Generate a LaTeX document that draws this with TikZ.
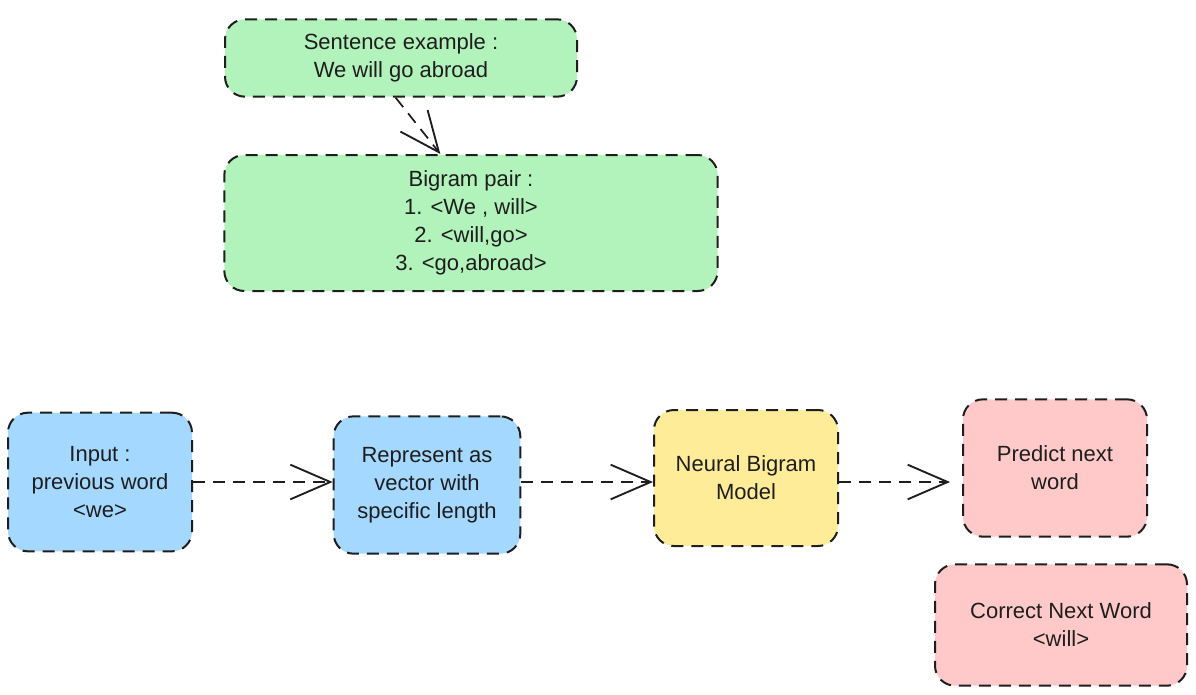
\documentclass[tikz,border=0pt]{standalone}
\usepackage{fontspec}
\setmainfont{Liberation Sans}
\usetikzlibrary{arrows.meta}

\definecolor{inkgray}{HTML}{1E1E1E}
\definecolor{fillgreen}{HTML}{B2F2BB}
\definecolor{fillblue}{HTML}{A5D8FF}
\definecolor{fillyellow}{HTML}{FFEC99}
\definecolor{fillred}{HTML}{FFC9C9}

\tikzset{
	sketchbox/.style={draw=inkgray, line width=1.5pt, dash pattern=on 9pt off 6pt, rounded corners=15pt, align=center, inner sep=2pt, font=\fontsize{16.5}{21}\selectfont, text=inkgray},
	flowarrow/.style={draw=inkgray, line width=1.3pt, dash pattern=on 9pt off 6pt, -{Straight Barb[length=30pt,width=26pt,line width=1.4pt]}}
}

\begin{document}
\begin{tikzpicture}[x=0.75pt,y=0.75pt,yscale=-1,xscale=1]
	\useasboundingbox (0,0) rectangle (1196,694);
	% upper part: sentence and its bigram pairs
	\node [sketchbox, fill=fillgreen, minimum width=264pt, minimum height=58pt] (sent) at (401,58) {Sentence example :\\We will go abroad};
	\node [sketchbox, fill=fillgreen, minimum width=370pt, minimum height=102pt] (bigram) at (471,223) {Bigram pair :\\1. <We , will>\\2. <will,go>\\3. <go,abroad>};
	% lower part: the model pipeline
	\node [sketchbox, fill=fillblue, minimum width=138pt, minimum height=104pt] (input) at (100,482) {Input :\\previous word\\<we>};
	\node [sketchbox, fill=fillblue, minimum width=140pt, minimum height=103pt] (repr) at (427,485) {Represent as\\vector with\\specific length};
	\node [sketchbox, fill=fillyellow, minimum width=138pt, minimum height=102pt] (model) at (746,478) {Neural Bigram\\Model};
	\node [sketchbox, fill=fillred, minimum width=138pt, minimum height=103pt] (predict) at (1055,468) {Predict next\\word};
	\node [sketchbox, fill=fillred, minimum width=189pt, minimum height=91pt] (target) at (1061,625) {Correct Next Word\\<will>};

	\draw [flowarrow] ([xshift=-4pt]sent.south) -- ([xshift=-23pt]bigram.north);
	\draw [flowarrow] (input.east) -- (repr.west |- input.east);
	\draw [flowarrow] (repr.east |- input.east) -- (model.west |- input.east);
	\draw [flowarrow, shorten >=9pt] (model.east |- input.east) -- (predict.west |- input.east);
\end{tikzpicture}
\end{document}
